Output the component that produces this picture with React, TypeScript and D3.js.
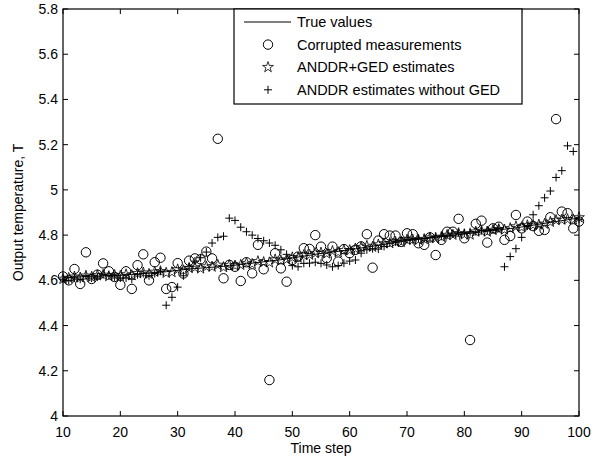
import React from "react";
import * as d3 from "d3";

const steps: number[] = d3.range(10, 101);

const trueValues: number[] = [
  4.610, 4.612, 4.614, 4.615, 4.617, 4.618, 4.619, 4.620, 4.620, 4.621,
  4.622, 4.624, 4.626, 4.628, 4.630, 4.632, 4.634, 4.636, 4.638, 4.641,
  4.644, 4.647, 4.650, 4.652, 4.654, 4.656, 4.658, 4.660, 4.662, 4.664,
  4.667, 4.670, 4.673, 4.676, 4.679, 4.682, 4.685, 4.688, 4.691, 4.695,
  4.699, 4.703, 4.707, 4.711, 4.715, 4.719, 4.722, 4.725, 4.728, 4.731,
  4.735, 4.739, 4.743, 4.747, 4.751, 4.755, 4.759, 4.763, 4.767, 4.771,
  4.775, 4.778, 4.781, 4.784, 4.787, 4.790, 4.793, 4.796, 4.799, 4.802,
  4.805, 4.808, 4.811, 4.814, 4.817, 4.820, 4.823, 4.826, 4.829, 4.832,
  4.836, 4.840, 4.844, 4.848, 4.852, 4.856, 4.860, 4.864, 4.868, 4.872,
  4.876,
];

const corrupted: number[] = [
  4.617, 4.600, 4.650, 4.584, 4.724, 4.606, 4.625, 4.675, 4.640, 4.615,
  4.580, 4.640, 4.562, 4.667, 4.715, 4.600, 4.680, 4.700, 4.562, 4.570,
  4.676, 4.630, 4.687, 4.697, 4.693, 4.727, 4.697, 5.226, 4.609, 4.668,
  4.660, 4.597, 4.680, 4.631, 4.757, 4.649, 4.159, 4.720, 4.653, 4.594,
  4.690, 4.705, 4.742, 4.739, 4.800, 4.749, 4.698, 4.749, 4.683, 4.738,
  4.720, 4.735, 4.750, 4.804, 4.656, 4.776, 4.804, 4.798, 4.798, 4.770,
  4.808, 4.804, 4.764, 4.757, 4.790, 4.712, 4.779, 4.815, 4.815, 4.872,
  4.786, 4.336, 4.850, 4.864, 4.767, 4.830, 4.837, 4.779, 4.796, 4.889,
  4.830, 4.860, 4.840, 4.819, 4.823, 4.879, 5.313, 4.904, 4.897, 4.830,
  4.860,
];

const anddrGed: number[] = [
  4.606, 4.610, 4.616, 4.612, 4.620, 4.615, 4.622, 4.624, 4.618, 4.623,
  4.619, 4.626, 4.622, 4.631, 4.634, 4.628, 4.637, 4.640, 4.633, 4.636,
  4.648, 4.644, 4.654, 4.657, 4.652, 4.661, 4.660, 4.668, 4.658, 4.667,
  4.665, 4.668, 4.676, 4.672, 4.684, 4.680, 4.679, 4.692, 4.688, 4.692,
  4.701, 4.700, 4.711, 4.713, 4.720, 4.722, 4.718, 4.729, 4.724, 4.733,
  4.733, 4.740, 4.746, 4.752, 4.748, 4.758, 4.763, 4.764, 4.770, 4.770,
  4.779, 4.780, 4.779, 4.782, 4.789, 4.786, 4.792, 4.800, 4.801, 4.808,
  4.803, 4.802, 4.815, 4.818, 4.815, 4.822, 4.826, 4.824, 4.830, 4.838,
  4.835, 4.843, 4.845, 4.846, 4.850, 4.858, 4.866, 4.868, 4.870, 4.869,
  4.878,
];

const anddrNoGed: number[] = [
  4.605, 4.600, 4.610, 4.605, 4.620, 4.610, 4.615, 4.625, 4.620, 4.615,
  4.610, 4.610, 4.605, 4.625, 4.630, 4.620, 4.630, 4.640, 4.490, 4.525,
  4.570, 4.620, 4.660, 4.685, 4.700, 4.725, 4.765, 4.790, 4.795, 4.875,
  4.865, 4.835, 4.815, 4.800, 4.785, 4.775, 4.765, 4.755, 4.735, 4.715,
  4.665, 4.660, 4.675, 4.676, 4.680, 4.675, 4.668, 4.660, 4.665, 4.676,
  4.685, 4.690, 4.720, 4.735, 4.740, 4.738, 4.750, 4.765, 4.770, 4.775,
  4.780, 4.780, 4.785, 4.785, 4.790, 4.795, 4.795, 4.800, 4.805, 4.810,
  4.810, 4.815, 4.815, 4.820, 4.820, 4.825, 4.830, 4.660, 4.705, 4.740,
  4.790, 4.840, 4.890, 4.930, 4.965, 4.995, 5.055, 5.085, 5.195, 5.170,
  4.870,
];

const xTicks: number[] = [10, 20, 30, 40, 50, 60, 70, 80, 90, 100];
const yTicks: number[] = [4, 4.2, 4.4, 4.6, 4.8, 5, 5.2, 5.4, 5.6, 5.8];

const legendLabels: string[] = [
  "True values",
  "Corrupted measurements",
  "ANDDR+GED estimates",
  "ANDDR estimates without GED",
];

const W = 604;
const H = 461;
const left = 63;
const right = 579;
const top = 9;
const bottom = 416;
const font = "'Liberation Sans', Arial, Helvetica, sans-serif";

const x = d3.scaleLinear().domain([10, 100]).range([left, right]);
const y = d3.scaleLinear().domain([4, 5.8]).range([bottom, top]);

const starPath = d3.symbol(d3.symbolStar, 36)() as string;
const plusPath = "M-4,0H4M0,-4V4";
const R = 4.7;

function Circle({ cx, cy }: { cx: number; cy: number }) {
  return <circle cx={cx} cy={cy} r={R} fill="none" stroke="#000" strokeWidth={1} />;
}
function Star({ cx, cy }: { cx: number; cy: number }) {
  return <path d={starPath} transform={`translate(${cx},${cy})`} fill="none" stroke="#000" strokeWidth={0.8} />;
}
function Plus({ cx, cy }: { cx: number; cy: number }) {
  return <path d={plusPath} transform={`translate(${cx},${cy})`} fill="none" stroke="#000" strokeWidth={1} />;
}

export default function App() {
  const line = d3
    .line<number>()
    .x((_, i) => x(steps[i]))
    .y((d) => y(d));

  const legX = 234;
  const legY = 9;
  const legW = 288;
  const legH = 95;
  const rowY = (i: number) => legY + 13 + i * 22.6;

  return (
    <svg
      width={W}
      height={H}
      style={{ position: "absolute", left: 0, top: 0, background: "#fff" }}
      fontFamily={font}
    >
      <rect x={0} y={0} width={W} height={H} fill="#fff" />
      {/* data */}
      <path d={line(trueValues) as string} fill="none" stroke="#000" strokeWidth={1} />
      {corrupted.map((v, i) => (
        <Circle key={"c" + i} cx={x(steps[i])} cy={y(v)} />
      ))}
      {anddrGed.map((v, i) => (
        <Star key={"s" + i} cx={x(steps[i])} cy={y(v)} />
      ))}
      {anddrNoGed.map((v, i) => (
        <Plus key={"p" + i} cx={x(steps[i])} cy={y(v)} />
      ))}

      {/* axes box */}
      <rect x={left} y={top} width={right - left} height={bottom - top} fill="none" stroke="#000" strokeWidth={1.2} />
      {xTicks.map((t) => (
        <g key={"xt" + t}>
          <line x1={x(t)} x2={x(t)} y1={bottom} y2={bottom - 5} stroke="#000" />
          <line x1={x(t)} x2={x(t)} y1={top} y2={top + 5} stroke="#000" />
          <text x={x(t)} y={bottom + 21} fontSize={14} textAnchor="middle">
            {t}
          </text>
        </g>
      ))}
      {yTicks.map((t) => (
        <g key={"yt" + t}>
          <line x1={left} x2={left + 5} y1={y(t)} y2={y(t)} stroke="#000" />
          <line x1={right} x2={right - 5} y1={y(t)} y2={y(t)} stroke="#000" />
          <text x={left - 5} y={y(t) + 5} fontSize={14} textAnchor="end">
            {d3.format("~g")(t)}
          </text>
        </g>
      ))}
      <text x={(left + right) / 2} y={bottom + 37} fontSize={14} textAnchor="middle">
        Time step
      </text>
      <text
        transform={`translate(${23},${(top + bottom) / 2}) rotate(-90)`}
        fontSize={14}
        textAnchor="middle"
      >
        Output temperature, T
      </text>

      {/* legend */}
      <rect x={legX} y={legY} width={legW} height={legH} fill="#fff" stroke="#000" strokeWidth={1.2} />
      <line x1={legX + 10} x2={legX + 57} y1={rowY(0)} y2={rowY(0)} stroke="#000" />
      <Circle cx={legX + 34} cy={rowY(1)} />
      <Star cx={legX + 34} cy={rowY(2)} />
      <Plus cx={legX + 34} cy={rowY(3)} />
      {legendLabels.map((l, i) => (
        <text key={l} x={legX + 63} y={rowY(i) + 5} fontSize={14.5}>
          {l}
        </text>
      ))}
    </svg>
  );
}
